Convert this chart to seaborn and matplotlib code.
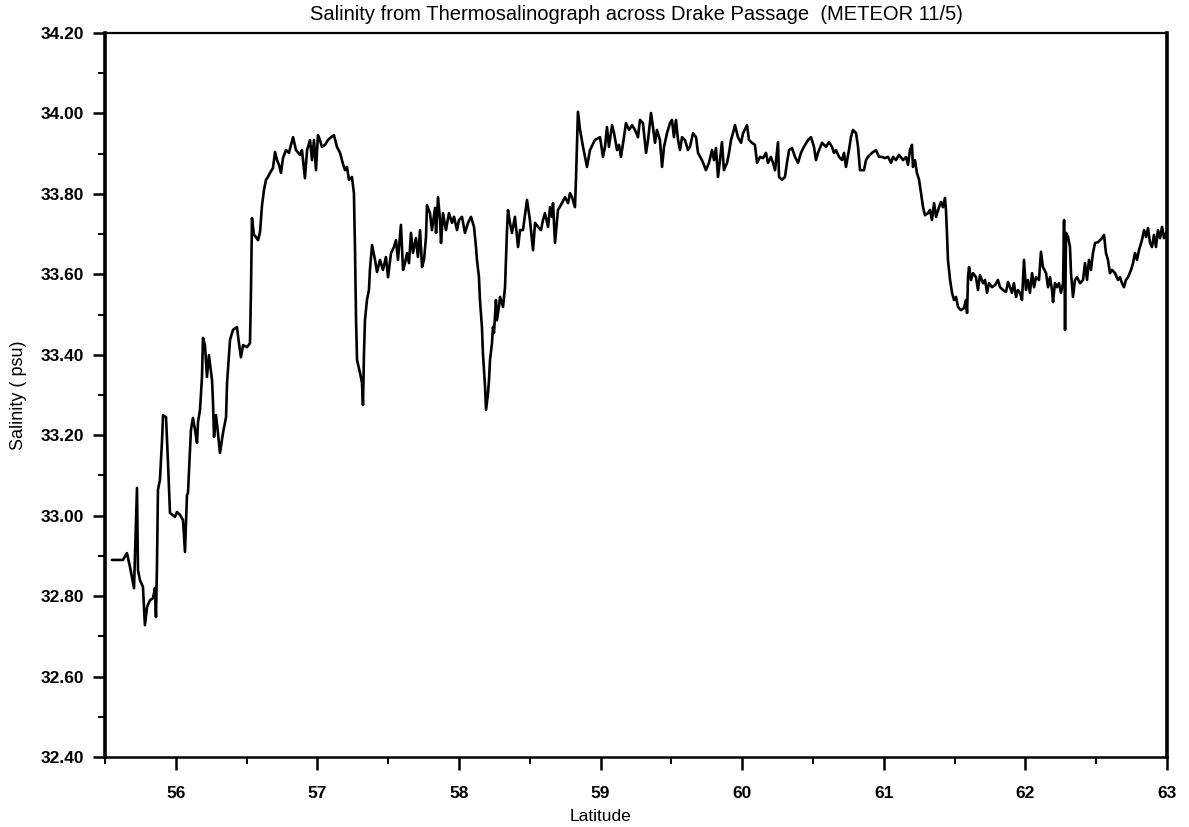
import matplotlib
matplotlib.use("Agg")
import matplotlib.pyplot as plt
from matplotlib.ticker import MultipleLocator, FormatStrFormatter
import seaborn as sns
import pandas as pd

# Thermosalinograph track across Drake Passage (METEOR cruise 11/5)
latitude = [
    55.549, 55.627, 55.655, 55.677, 55.705, 55.726, 55.733, 55.747, 55.768, 55.782,
    55.797, 55.818, 55.839, 55.853, 55.860, 55.867, 55.874, 55.888, 55.903, 55.910,
    55.931, 55.945, 55.959, 55.994, 56.008, 56.030, 56.051, 56.065, 56.079, 56.086,
    56.107, 56.121, 56.136, 56.150, 56.157, 56.171, 56.185, 56.192, 56.206, 56.220,
    56.234, 56.256, 56.263, 56.270, 56.284, 56.298, 56.312, 56.333, 56.355, 56.362,
    56.383, 56.404, 56.432, 56.446, 56.460, 56.475, 56.503, 56.524, 56.531, 56.538,
    56.552, 56.566, 56.581, 56.595, 56.609, 56.623, 56.637, 56.651, 56.665, 56.686,
    56.701, 56.715, 56.729, 56.743, 56.757, 56.778, 56.799, 56.814, 56.828, 56.849,
    56.877, 56.891, 56.912, 56.927, 56.948, 56.962, 56.976, 56.990, 57.004, 57.018,
    57.032, 57.054, 57.075, 57.096, 57.117, 57.138, 57.160, 57.181, 57.195, 57.209,
    57.223, 57.244, 57.258, 57.266, 57.273, 57.280, 57.301, 57.315, 57.322, 57.329,
    57.336, 57.350, 57.364, 57.371, 57.386, 57.407, 57.421, 57.442, 57.463, 57.484,
    57.499, 57.520, 57.541, 57.555, 57.569, 57.590, 57.605, 57.619, 57.633, 57.647,
    57.661, 57.675, 57.696, 57.710, 57.725, 57.739, 57.753, 57.767, 57.774, 57.795,
    57.809, 57.831, 57.838, 57.852, 57.866, 57.873, 57.887, 57.908, 57.929, 57.951,
    57.965, 57.986, 58.000, 58.021, 58.042, 58.064, 58.085, 58.106, 58.120, 58.127,
    58.141, 58.148, 58.162, 58.169, 58.184, 58.191, 58.205, 58.212, 58.219, 58.233,
    58.240, 58.247, 58.261, 58.268, 58.282, 58.290, 58.311, 58.325, 58.332, 58.339,
    58.346, 58.360, 58.374, 58.395, 58.417, 58.431, 58.452, 58.480, 58.501, 58.523,
    58.537, 58.558, 58.579, 58.593, 58.607, 58.629, 58.643, 58.657, 58.664, 58.678,
    58.699, 58.727, 58.749, 58.770, 58.784, 58.798, 58.819, 58.826, 58.840, 58.855,
    58.876, 58.904, 58.925, 58.960, 58.996, 59.017, 59.031, 59.045, 59.059, 59.081,
    59.095, 59.116, 59.130, 59.144, 59.165, 59.179, 59.201, 59.222, 59.243, 59.264,
    59.278, 59.299, 59.321, 59.335, 59.356, 59.370, 59.384, 59.398, 59.419, 59.434,
    59.448, 59.469, 59.490, 59.504, 59.518, 59.532, 59.547, 59.561, 59.575, 59.596,
    59.617, 59.631, 59.653, 59.674, 59.688, 59.716, 59.744, 59.765, 59.787, 59.801,
    59.815, 59.829, 59.843, 59.857, 59.871, 59.893, 59.907, 59.921, 59.935, 59.949,
    59.970, 59.992, 60.006, 60.034, 60.048, 60.069, 60.090, 60.105, 60.126, 60.147,
    60.168, 60.182, 60.203, 60.218, 60.232, 60.253, 60.260, 60.281, 60.302, 60.316,
    60.331, 60.352, 60.373, 60.394, 60.415, 60.436, 60.465, 60.486, 60.507, 60.521,
    60.535, 60.564, 60.592, 60.613, 60.634, 60.648, 60.662, 60.684, 60.705, 60.719,
    60.733, 60.754, 60.768, 60.782, 60.804, 60.818, 60.832, 60.860, 60.874, 60.888,
    60.917, 60.945, 60.966, 60.987, 61.008, 61.030, 61.051, 61.065, 61.086, 61.107,
    61.136, 61.157, 61.171, 61.185, 61.199, 61.206, 61.220, 61.234, 61.249, 61.263,
    61.277, 61.291, 61.312, 61.326, 61.340, 61.355, 61.369, 61.390, 61.404, 61.418,
    61.432, 61.439, 61.446, 61.453, 61.468, 61.482, 61.496, 61.510, 61.524, 61.545,
    61.566, 61.580, 61.588, 61.595, 61.602, 61.616, 61.630, 61.651, 61.665, 61.679,
    61.701, 61.715, 61.729, 61.743, 61.764, 61.785, 61.806, 61.821, 61.842, 61.863,
    61.877, 61.891, 61.905, 61.919, 61.934, 61.948, 61.962, 61.976, 61.990, 62.004,
    62.018, 62.032, 62.047, 62.061, 62.075, 62.096, 62.110, 62.124, 62.146, 62.160,
    62.174, 62.188, 62.195, 62.209, 62.223, 62.237, 62.251, 62.266, 62.273, 62.280,
    62.287, 62.301, 62.315, 62.322, 62.336, 62.350, 62.364, 62.386, 62.407, 62.421,
    62.435, 62.449, 62.463, 62.477, 62.492, 62.513, 62.527, 62.541, 62.555, 62.569,
    62.583, 62.597, 62.612, 62.633, 62.654, 62.668, 62.682, 62.696, 62.710, 62.725,
    62.746, 62.760, 62.774, 62.788, 62.802, 62.823, 62.838, 62.852, 62.866, 62.880,
    62.894, 62.908, 62.922, 62.936, 62.951, 62.965, 62.979, 62.993,
]

salinity = [
    32.890, 32.890, 32.907, 32.872, 32.820, 33.069, 32.865, 32.840, 32.823, 32.728,
    32.773, 32.790, 32.795, 32.820, 32.748, 32.872, 33.064, 33.089, 33.188, 33.250,
    33.245, 33.131, 33.007, 32.997, 33.009, 33.002, 32.989, 32.910, 33.051, 33.056,
    33.213, 33.243, 33.213, 33.181, 33.233, 33.263, 33.345, 33.442, 33.424, 33.345,
    33.399, 33.337, 33.280, 33.196, 33.250, 33.205, 33.156, 33.205, 33.245, 33.330,
    33.437, 33.462, 33.469, 33.429, 33.394, 33.424, 33.419, 33.429, 33.561, 33.740,
    33.698, 33.693, 33.685, 33.705, 33.772, 33.810, 33.835, 33.842, 33.852, 33.864,
    33.904, 33.884, 33.872, 33.852, 33.889, 33.909, 33.902, 33.922, 33.941, 33.909,
    33.897, 33.909, 33.839, 33.909, 33.934, 33.884, 33.934, 33.859, 33.946, 33.934,
    33.917, 33.922, 33.934, 33.941, 33.946, 33.917, 33.902, 33.874, 33.859, 33.867,
    33.835, 33.842, 33.802, 33.653, 33.486, 33.387, 33.355, 33.330, 33.275, 33.404,
    33.486, 33.536, 33.561, 33.611, 33.673, 33.636, 33.606, 33.636, 33.611, 33.643,
    33.593, 33.653, 33.668, 33.685, 33.636, 33.723, 33.611, 33.628, 33.653, 33.628,
    33.703, 33.653, 33.690, 33.643, 33.710, 33.618, 33.636, 33.693, 33.772, 33.752,
    33.710, 33.765, 33.703, 33.792, 33.735, 33.678, 33.752, 33.710, 33.752, 33.728,
    33.743, 33.710, 33.735, 33.743, 33.703, 33.728, 33.743, 33.718, 33.668, 33.636,
    33.593, 33.536, 33.469, 33.404, 33.320, 33.263, 33.305, 33.337, 33.387, 33.429,
    33.469, 33.454, 33.536, 33.486, 33.519, 33.544, 33.519, 33.568, 33.643, 33.710,
    33.760, 33.728, 33.703, 33.743, 33.668, 33.710, 33.710, 33.785, 33.735, 33.660,
    33.728, 33.718, 33.710, 33.735, 33.752, 33.718, 33.767, 33.743, 33.777, 33.678,
    33.760, 33.777, 33.792, 33.777, 33.802, 33.792, 33.767, 33.835, 34.004, 33.959,
    33.917, 33.867, 33.909, 33.934, 33.941, 33.892, 33.917, 33.966, 33.917, 33.971,
    33.951, 33.909, 33.922, 33.892, 33.941, 33.976, 33.959, 33.971, 33.959, 33.941,
    33.984, 33.976, 33.902, 33.934, 34.001, 33.966, 33.927, 33.959, 33.934, 33.867,
    33.917, 33.951, 33.976, 33.984, 33.941, 33.984, 33.934, 33.909, 33.941, 33.934,
    33.909, 33.917, 33.951, 33.941, 33.902, 33.884, 33.859, 33.877, 33.909, 33.884,
    33.914, 33.842, 33.884, 33.929, 33.859, 33.877, 33.902, 33.934, 33.951, 33.971,
    33.941, 33.927, 33.951, 33.971, 33.934, 33.927, 33.922, 33.877, 33.892, 33.889,
    33.902, 33.877, 33.892, 33.877, 33.859, 33.929, 33.842, 33.835, 33.842, 33.877,
    33.909, 33.914, 33.892, 33.877, 33.902, 33.917, 33.934, 33.941, 33.917, 33.884,
    33.902, 33.927, 33.917, 33.929, 33.917, 33.902, 33.909, 33.892, 33.884, 33.902,
    33.867, 33.909, 33.941, 33.959, 33.951, 33.917, 33.859, 33.859, 33.884, 33.892,
    33.902, 33.909, 33.892, 33.892, 33.889, 33.892, 33.877, 33.892, 33.884, 33.897,
    33.884, 33.892, 33.872, 33.909, 33.922, 33.867, 33.884, 33.852, 33.835, 33.802,
    33.767, 33.747, 33.752, 33.760, 33.735, 33.777, 33.743, 33.767, 33.780, 33.767,
    33.790, 33.760, 33.703, 33.636, 33.586, 33.554, 33.536, 33.544, 33.519, 33.511,
    33.516, 33.536, 33.504, 33.593, 33.618, 33.586, 33.603, 33.593, 33.561, 33.598,
    33.578, 33.586, 33.554, 33.578, 33.568, 33.573, 33.586, 33.568, 33.561, 33.556,
    33.581, 33.568, 33.554, 33.578, 33.544, 33.561, 33.554, 33.536, 33.636, 33.561,
    33.586, 33.554, 33.603, 33.568, 33.593, 33.586, 33.656, 33.618, 33.603, 33.568,
    33.593, 33.561, 33.531, 33.578, 33.568, 33.578, 33.554, 33.578, 33.735, 33.462,
    33.703, 33.693, 33.668, 33.603, 33.544, 33.586, 33.593, 33.578, 33.586, 33.628,
    33.586, 33.636, 33.611, 33.653, 33.678, 33.680, 33.685, 33.690, 33.698, 33.653,
    33.636, 33.603, 33.611, 33.603, 33.586, 33.593, 33.578, 33.568, 33.586, 33.593,
    33.611, 33.628, 33.653, 33.636, 33.660, 33.685, 33.710, 33.693, 33.715, 33.678,
    33.668, 33.698, 33.668, 33.710, 33.690, 33.718, 33.690, 33.703,
]

x_ticks = [56, 57, 58, 59, 60, 61, 62, 63]
y_ticks = [32.40, 32.60, 32.80, 33.00, 33.20, 33.40, 33.60, 33.80, 34.00, 34.20]

track = pd.DataFrame({"Latitude": latitude, "Salinity": salinity})

sns.set_style("white")
plt.rcParams["font.family"] = ["Liberation Sans", "DejaVu Sans"]

fig = plt.figure(figsize=(11.89, 8.27), dpi=100)
ax = fig.add_axes([0.0883, 0.0846, 0.8932, 0.8755])

sns.lineplot(data=track, x="Latitude", y="Salinity", ax=ax, color="black",
             linewidth=1.9, sort=False, estimator=None)

ax.set_xlim(55.5, 63.0)
ax.set_ylim(32.40, 34.20)
ax.set_xticks(x_ticks)
ax.set_yticks(y_ticks)
ax.xaxis.set_minor_locator(MultipleLocator(0.5))
ax.yaxis.set_minor_locator(MultipleLocator(0.1))
ax.yaxis.set_major_formatter(FormatStrFormatter("%.2f"))

# outward ticks on the bottom and left axes only
ax.tick_params(axis="x", which="both", bottom=True, top=False)
ax.tick_params(axis="y", which="both", left=True, right=False)
ax.tick_params(axis="both", which="major", direction="out", length=9, width=1.8,
               labelsize=12.5, color="black", labelcolor="black")
ax.tick_params(axis="both", which="minor", direction="out", length=5, width=1.4,
               color="black")
ax.tick_params(axis="x", which="major", pad=12)
ax.tick_params(axis="y", which="major", pad=6)
for lab in ax.get_xticklabels() + ax.get_yticklabels():
    lab.set_fontweight("bold")

for side, w in {"left": 2.6, "right": 2.6, "top": 1.6, "bottom": 1.8}.items():
    ax.spines[side].set_visible(True)
    ax.spines[side].set_color("black")
    ax.spines[side].set_linewidth(w)

ax.set_xlabel("Latitude", fontsize=12.5, color="black", labelpad=6)
ax.xaxis.set_label_coords(0.467, -0.072)
ax.set_ylabel("Salinity ( psu)", fontsize=13, color="black", labelpad=10)
ax.set_title("Salinity from Thermosalinograph across Drake Passage  (METEOR 11/5)",
             fontsize=14.5, color="black", pad=9)

fig.savefig("out.png", dpi=100, facecolor="white")
